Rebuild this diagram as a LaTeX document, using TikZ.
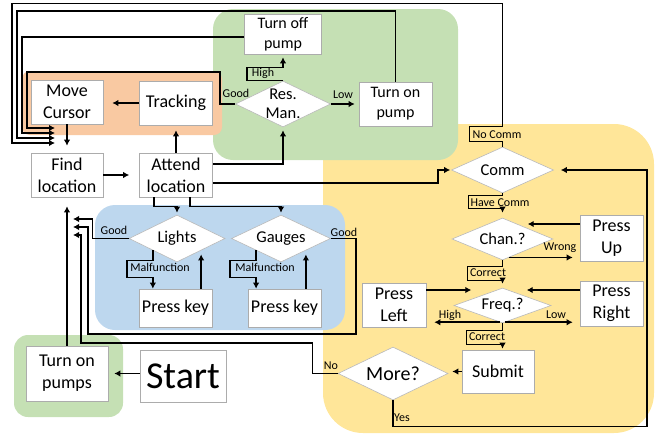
\documentclass[tikz,border=0pt]{standalone}
\usepackage{fontspec}
\setmainfont{Carlito}
\usetikzlibrary{arrows.meta,shapes.geometric}
\definecolor{zgreen}{HTML}{C5E0B4}
\definecolor{zorange}{HTML}{F9C9A2}
\definecolor{zblue}{HTML}{BDD7EE}
\definecolor{zyellow}{HTML}{FFE699}

\begin{document}
\begin{tikzpicture}[x=1pt,y=-1pt,>={Latex[length=6pt,width=6.5pt]},
  box/.style={draw=gray!65,fill=white,line width=0.6pt,align=center,inner sep=0pt,font=\fontsize{18}{22}\selectfont},
  dmd/.style={diamond,shape aspect=2,draw=gray!55,fill=white,line width=0.6pt,align=center,inner sep=-4pt,font=\fontsize{16.5}{19}\selectfont},
  lbl/.style={inner sep=0pt,font=\fontsize{12}{14}\selectfont},
  wire/.style={->,line width=1.5pt}]
\useasboundingbox (0,0) rectangle (655,434);
\fill[zyellow,rounded corners=40pt] (323,124) rectangle (654,433);
\fill[zgreen,rounded corners=20pt] (213,9) rectangle (458,160);
\fill[zblue,rounded corners=20pt] (95,205) rectangle (345,330);
\fill[zorange,rounded corners=8pt] (22,71) rectangle (222,135);
\fill[zgreen,rounded corners=14pt] (14,335) rectangle (123,417);

\node[box,minimum width=77pt,minimum height=40pt,font=\fontsize{16}{20}\selectfont] (turnoff) at (283,34) {Turn off\\pump};
\node[box,minimum width=72pt,minimum height=44pt] (cursor) at (67,102) {Move\\Cursor};
\node[box,minimum width=73pt,minimum height=44pt] (tracking) at (176,103) {Tracking};
\node[dmd,minimum width=95pt,minimum height=46pt] (resman) at (283,104) {Res.\\Man.};
\node[box,minimum width=73pt,minimum height=44pt,font=\fontsize{16}{20}\selectfont] (turnon) at (395.5,104) {Turn on\\pump};
\node[box,minimum width=72pt,minimum height=44pt] (find) at (67,175) {Find\\location};
\node[box,minimum width=73pt,minimum height=44pt] (attend) at (176,175) {Attend\\location};
\node[dmd,minimum width=102pt,minimum height=46pt] (comm) at (502.5,170) {Comm};
\node[dmd,minimum width=96pt,minimum height=47pt] (lights) at (177,238.5) {Lights};
\node[dmd,minimum width=99pt,minimum height=47pt] (gauges) at (281,238.5) {Gauges};
\node[box,minimum width=73pt,minimum height=38pt] (keyl) at (175.5,308) {Press key};
\node[box,minimum width=73pt,minimum height=38pt] (keyg) at (284.5,308) {Press key};
\node[dmd,minimum width=101pt,minimum height=42pt] (chan) at (502.5,239) {Chan.?};
\node[box,minimum width=63pt,minimum height=46pt] (pressup) at (611.5,238) {Press\\Up};
\node[dmd,minimum width=97pt,minimum height=35pt] (freq) at (502.5,305.5) {Freq.?};
\node[box,minimum width=64pt,minimum height=44pt] (pressleft) at (394,305) {Press\\Left};
\node[box,minimum width=63pt,minimum height=45pt] (pressright) at (611.5,303.5) {Press\\Right};
\node[box,minimum width=72pt,minimum height=43pt] (submit) at (498,371.5) {Submit};
\node[dmd,minimum width=110pt,minimum height=53pt,font=\fontsize{20}{24}\selectfont] (more) at (393,373.5) {More?};
\node[box,minimum width=86pt,minimum height=52pt,font=\fontsize{38}{44}\selectfont] (start) at (183,376) {Start};
\node[box,minimum width=82pt,minimum height=55pt] (pumps) at (67,373.5) {Turn on\\pumps};

\coordinate (inA) at (55,128);
\coordinate (inB) at (55,133);
\coordinate (inC) at (55,138);
\coordinate (inD) at (55,143);
\coordinate (outE) at (73,219);
\coordinate (outF) at (73,227);
\coordinate (outG) at (73,235);

\draw[wire,shorten >=6pt] (start.west |- pumps.east) -- (pumps.east);
\draw[wire,shorten >=9pt] (pumps.north) -- (find.south);
\draw[wire,shorten >=10pt] (find.east) -- (attend.west);
\draw[wire,shorten >=5pt] (attend.north) -- (tracking.south);
\draw[wire,shorten >=9pt] (tracking.west) -- (tracking.west -| cursor.east);
\draw[wire,shorten >=7pt] (cursor.south) -- (find.north);
\draw[wire,shorten >=3pt] ([yshift=11pt]attend.east) -| (resman.south);
\draw[wire,shorten >=1pt] ([yshift=-8pt]attend.east) -| ([xshift=-13pt]comm.west) -- (comm.west);
\draw[wire,shorten >=2pt] ([xshift=-22pt]attend.south) -- ++(0,9) -| (lights.north);
\draw[wire,shorten >=2pt] ([xshift=14pt]attend.south) -- ++(0,9) -| (gauges.north);

\draw[wire,shorten >=3pt] (resman.north) -- ++(-36,0) -- ++(0,-13) -- ++(36,0) -- (turnoff.south);
\draw[wire,shorten >=4pt] (resman.east) -- (resman.east -| turnon.west);
\draw[wire] (resman.west) -- ++(-15,0) |- ([xshift=-28pt,yshift=56pt]inA) -- ([xshift=-28pt]inA) -- (inA);
\draw[wire] ([yshift=-3pt]turnoff.west) -| ([xshift=-33pt]inB) -- (inB);
\draw[wire] (turnon.north) -- ++(0,-70.5) -| ([xshift=-38pt]inC) -- (inC);
\draw[wire] (comm.north) -- ++(0,-5) -- ++(-33,0) -- ++(0,-15) -- ++(33,0) -- ++(0,-123) -| ([xshift=-43pt]inD) -- (inD);

\draw[wire,shorten >=7pt] (more.south) -- ++(0,26) -| ([xshift=93pt]comm.east) -- (comm.east);
\draw[wire,shorten >=5pt] (comm.south) -- ++(0,2) -- ++(-34,0) -- ++(0,13) -- ++(34,0) -- (chan.north);
\draw[wire,shorten >=7pt] (chan.-70) -- (chan.-70 -| pressup.west);
\draw[wire] ([yshift=14pt]pressup.west) -- ++(-52,0);
\draw[wire,shorten >=4pt] (chan.south) -- ++(0,6) -- ++(-35,0) -- ++(0,14) -- ++(35,0) -- (freq.north);
\draw[wire] ([yshift=15pt]pressleft.east) -- ++(45,0);
\draw[wire] ([yshift=13.5pt]pressright.west) -- ++(-53,0);
\draw[wire,shorten >=8pt] (freq.-100) -- (freq.-100 -| pressleft.east);
\draw[wire,shorten >=7pt] (freq.-80) -- (freq.-80 -| pressright.west);
\draw[wire,shorten >=1pt] (freq.south) -- ++(0,7) -- ++(-36,0) -- ++(0,14) -- ++(36,0) -- (submit.north -| freq.south);
\draw[wire,shorten >=4pt] (submit.west) -- (submit.west -| more.east);
\draw[wire] (more.west) -- ++(-25,0) |- ([xshift=8pt,yshift=-108pt]outG) -- ([xshift=8pt]outG) -- (outG);

\draw[wire] (gauges.east) -- ++(25,0) |- ([xshift=15pt,yshift=-107pt]outF) -- ([xshift=15pt]outF) -- (outF);
\draw[wire] (lights.west) -- ++(-36,0) |- (outE);
\draw[wire] (lights.south west) -- ++(0,10) -- ++(-26,0) -- ++(0,17) -- ++(26,0) -- (keyl.north -| lights.south west);
\draw[wire,shorten >=4pt] (keyl.north -| lights.south east) -- (lights.south east);
\draw[wire] (gauges.south west) -- ++(0,10) -- ++(-26,0) -- ++(0,17) -- ++(26,0) -- (keyg.north -| gauges.south west);
\draw[wire,shorten >=4pt] (keyg.north -| gauges.south east) -- (gauges.south east);

\node[lbl] (goodres) at (236,93) {Good};
\node[lbl] (highres) at (263,73) {High};
\node[lbl] (lowres) at (343,95) {Low};
\node[lbl] (nocomm) at (497,135) {No Comm};
\node[lbl] (havecomm) at (500,203) {Have Comm};
\node[lbl] (wrong) at (560,248) {Wrong};
\node[lbl] (corchan) at (488,273) {Correct};
\node[lbl] (highfreq) at (450,315) {High};
\node[lbl] (lowfreq) at (556,315) {Low};
\node[lbl] (corfreq) at (487,337) {Correct};
\node[lbl] (nomore) at (331,366) {No};
\node[lbl] (yesmore) at (402,418) {Yes};
\node[lbl] (goodlights) at (114,230) {Good};
\node[lbl] (goodgauges) at (344,232) {Good};
\node[lbl] (malflights) at (160,267) {Malfunction};
\node[lbl] (malfgauges) at (265,267) {Malfunction};
\end{tikzpicture}
\end{document}
